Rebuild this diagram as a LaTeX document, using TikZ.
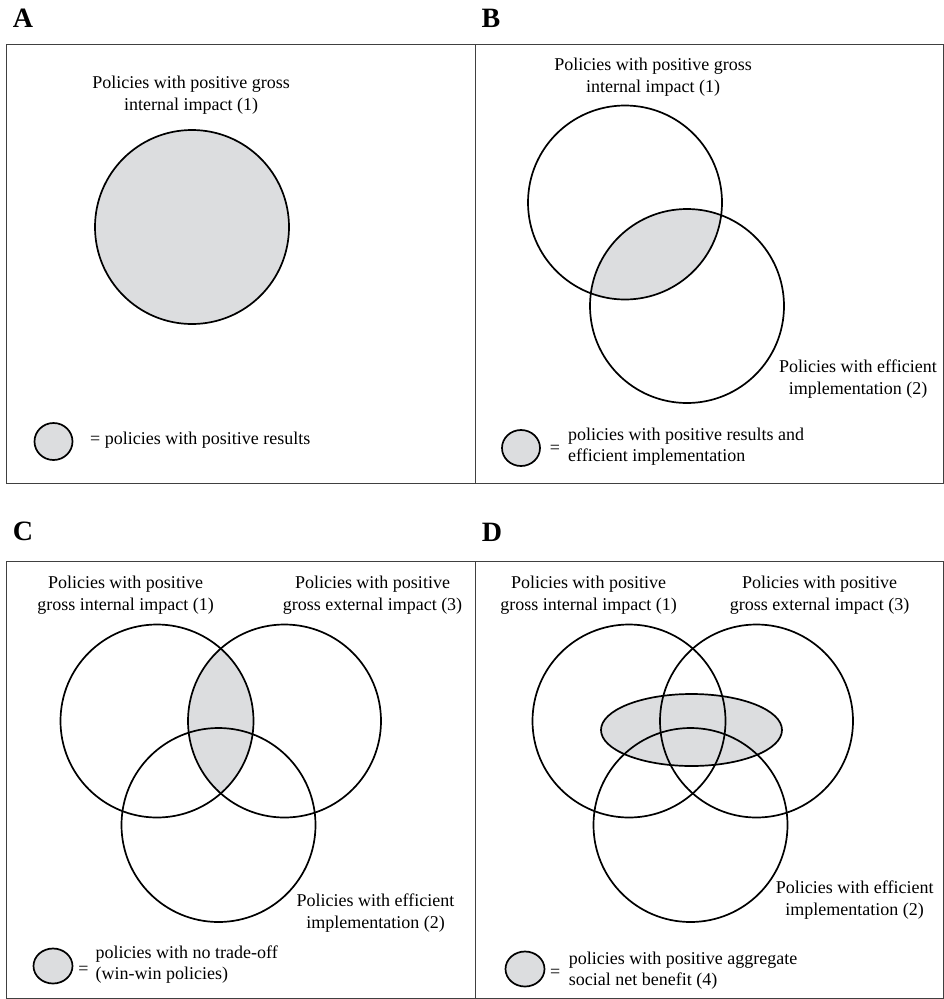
\documentclass[tikz,border=0pt]{standalone}
\usepackage{fontspec}
\setmainfont{Liberation Serif}
\definecolor{shadegray}{RGB}{220,221,223}
\begin{document}
\begin{tikzpicture}[x=1pt, y=-1pt,
    panel/.style={draw=black!75, line width=1pt},
    set/.style={draw=black, line width=1.7pt},
    lbl/.style={font=\fontsize{28}{30}\selectfont\bfseries, inner sep=0pt},
    txt/.style={font=\fontsize{18}{22}\selectfont, align=center, inner sep=0pt},
    keytxt/.style={font=\fontsize{18}{21}\selectfont, align=left, inner sep=0pt, anchor=west}]
    \useasboundingbox (0,0) rectangle (944,999);

    % Panel A
    \node[lbl] (lblA) at (23,18) {A};
    \draw[panel] (6,44) rectangle (475,483);
    \draw[set, fill=shadegray] (192,227) circle (97);
    \node[txt] (txtA1) at (191,95) {Policies with positive gross\\internal impact (1)};
    \draw[set, fill=shadegray] (53.5,441.5) ellipse (19 and 18.5);
    \node[keytxt] (keyA) at (90,440) {= policies with positive results};

    % Panel B
    \node[lbl] (lblB) at (491,18) {B};
    \draw[panel] (475,44) rectangle (943,483);
    \begin{scope}
        \clip (625,202.5) circle (97);
        \fill[shadegray] (687,306) circle (97);
    \end{scope}
    \draw[set] (625,202.5) circle (97);
    \draw[set] (687,306) circle (97);
    \node[txt] (txtB1) at (653,77) {Policies with positive gross\\internal impact (1)};
    \node[txt] (txtB2) at (858,379) {Policies with efficient\\implementation (2)};
    \draw[set, fill=shadegray] (521,448) ellipse (19 and 18);
    \node[txt] (eqB) at (555,449) {=};
    \node[keytxt] (keyB) at (568,447) {policies with positive results and\\efficient implementation};

    % Panel C
    \node[lbl] (lblC) at (23,531) {C};
    \draw[panel] (6,561) rectangle (475,998);
    \begin{scope}
        \clip (157,721) circle (96.5);
        \fill[shadegray] (284.5,721) circle (96.5);
    \end{scope}
    \draw[set] (157,721) circle (96.5);
    \draw[set] (284.5,721) circle (96.5);
    \draw[set] (218.5,825) circle (97);
    \node[txt] (txtC1) at (125.5,595) {Policies with positive\\gross internal impact (1)};
    \node[txt] (txtC3) at (372.5,595) {Policies with positive\\gross external impact (3)};
    \node[txt] (txtC2) at (375.5,913) {Policies with efficient\\implementation (2)};
    \draw[set, fill=shadegray] (53,966) ellipse (19.5 and 17.5);
    \node[txt] (eqC) at (83.5,970) {=};
    \node[keytxt] (keyC) at (95.5,964.5) {policies with no trade-off\\(win-win policies)};

    % Panel D
    \node[lbl] (lblD) at (492,532) {D};
    \draw[panel] (475,561) rectangle (943,998);
    \fill[shadegray] (691.5,730) ellipse (90.5 and 36);
    \draw[set] (629,721) circle (96.5);
    \draw[set] (756.5,721) circle (96.5);
    \draw[set] (690.5,825) circle (97);
    \draw[set] (691.5,730) ellipse (90.5 and 36);
    \node[txt] (txtD1) at (588.5,595) {Policies with positive\\gross internal impact (1)};
    \node[txt] (txtD3) at (819.5,595) {Policies with positive\\gross external impact (3)};
    \node[txt] (txtD2) at (854.7,900.5) {Policies with efficient\\implementation (2)};
    \draw[set, fill=shadegray] (525,969) ellipse (19.5 and 17.5);
    \node[txt] (eqD) at (555.3,973) {=};
    \node[keytxt] (keyD) at (568.7,970.5) {policies with positive aggregate\\social net benefit (4)};
\end{tikzpicture}
\end{document}
